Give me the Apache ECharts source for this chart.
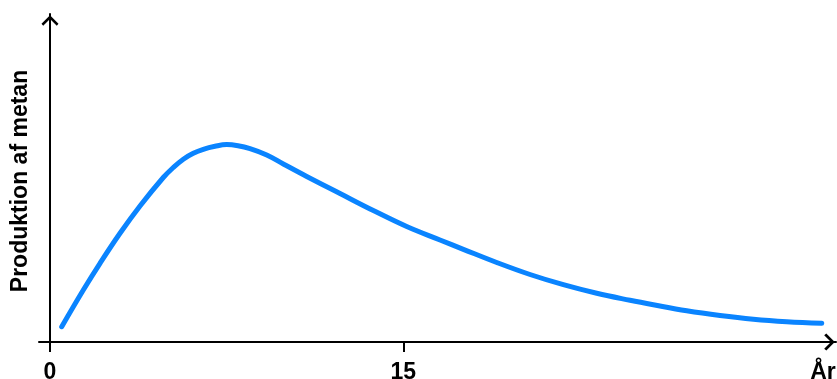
<!DOCTYPE html>
<html>
<head>
<meta charset="utf-8">
<script src="https://cdn.jsdelivr.net/npm/echarts@6/dist/echarts.min.js"></script>
<style>
html,body{margin:0;padding:0;background:#fff;}
#chart{width:837px;height:379px;}
</style>
</head>
<body>
<div id="chart"></div>
<script>
// Data (x in years, y in arbitrary production units)
var years = [0.497, 1.414, 2.123, 2.972, 3.821, 4.810, 5.235, 5.660, 6.084, 6.509, 7.006, 7.502, 7.982, 8.491, 9.201, 9.905, 10.899, 12.313, 13.727, 15.143, 16.558, 17.548, 18.966, 20.380, 21.794, 23.212, 24.625, 25.615, 27.033, 28.446, 29.860, 31.278, 32.764];
var production = [4.66, 15.85, 23.99, 33.14, 41.46, 50.15, 53.20, 55.73, 57.53, 58.75, 59.66, 60.18, 59.82, 58.93, 57.01, 54.27, 50.46, 45.27, 40.09, 35.21, 31.10, 28.26, 24.24, 20.58, 17.47, 14.85, 12.71, 11.34, 9.51, 8.08, 6.95, 6.19, 5.70];
var xTickValues = [0, 15];
var xAxisName = 'År';
var yAxisName = 'Produktion af metan';

var chevron = 'path://M0,10 L10,0 L20,10 L18,12.5 L10,4.5 L2,12.5 Z';
var font = "'Liberation Sans', Arial, Helvetica, sans-serif";

var points = years.map(function (x, i) { return [x, production[i]]; });

var chart = echarts.init(document.getElementById('chart'), null, {renderer: 'canvas'});
chart.setOption({
  animation: false,
  backgroundColor: '#ffffff',
  grid: {left: 39, right: 1, top: 14, bottom: 37, containLabel: false, outerBoundsMode: 'none'},
  xAxis: {
    type: 'value',
    min: -0.467,
    max: 33.37,
    name: xAxisName,
    nameLocation: 'end',
    nameGap: -13,
    nameTextStyle: {color: '#000', fontFamily: font, fontWeight: 'bold', fontSize: 23, align: 'center', verticalAlign: 'top', padding: [19, 0, 0, 0]},
    axisLine: {show: true, onZero: false, lineStyle: {color: '#000', width: 2}, symbol: ['none', chevron], symbolSize: [17, 13], symbolOffset: [0, -6.5]},
    axisTick: {show: true, customValues: xTickValues, length: 10, lineStyle: {color: '#000', width: 2}},
    axisLabel: {show: true, customValues: xTickValues, margin: 19, color: '#000', fontFamily: font, fontWeight: 'bold', fontSize: 23},
    splitLine: {show: false}
  },
  yAxis: {
    type: 'value',
    min: 0,
    max: 100,
    name: yAxisName,
    nameLocation: 'middle',
    nameGap: 7,
    nameRotate: 90,
    nameTextStyle: {color: '#000', fontFamily: font, fontWeight: 'bold', fontSize: 23, padding: [0, 6, 0, 0]},
    axisLine: {show: true, onZero: true, lineStyle: {color: '#000', width: 2}, symbol: ['none', chevron], symbolSize: [17, 13], symbolOffset: [0, -6.5]},
    axisTick: {show: false},
    axisLabel: {show: false},
    splitLine: {show: false}
  },
  series: [{
    type: 'line',
    data: points,
    smooth: 0.4,
    showSymbol: false,
    lineStyle: {color: '#0a84ff', width: 5, cap: 'round', join: 'round'},
    z: 3
  }]
});
</script>
</body>
</html>
